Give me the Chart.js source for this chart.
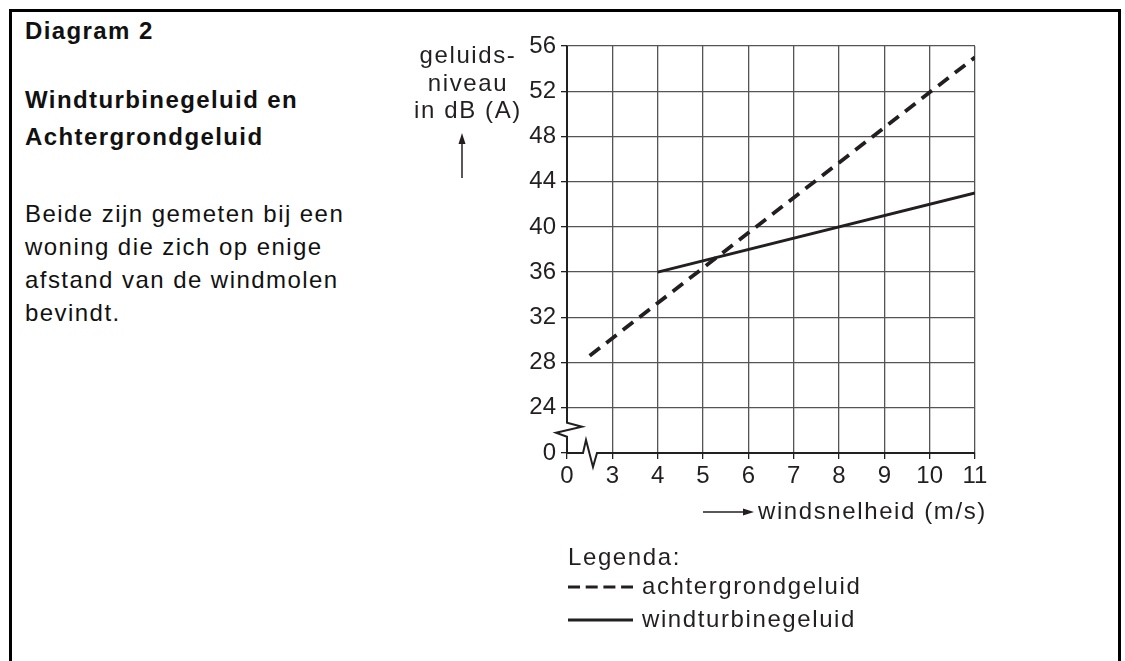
<!DOCTYPE html>
<html>
<head>
<meta charset="utf-8">
<script src="https://cdn.jsdelivr.net/npm/chart.js@4.4.1/dist/chart.umd.min.js"></script>
<style>
  html, body { margin: 0; padding: 0; background: #fff; overflow: hidden; }
  body { width: 1125px; height: 661px; position: relative; font-family: "Liberation Sans", Arial, sans-serif; color: #231f20; }
  .frame { position: absolute; left: 9px; top: 9px; width: 1106px; height: 700px; border: 3px solid #000; border-bottom: none; }
  .txt { position: absolute; left: 25px; white-space: nowrap; font-size: 24px; letter-spacing: 1.45px; color: #111; }
  .bold { font-weight: bold; letter-spacing: 1.4px; }
  #c { position: absolute; left: 0; top: 0; z-index: 2; }
</style>
</head>
<body>
<div class="frame"></div>
<div class="txt bold" style="top:14px; line-height:33px;">Diagram 2</div>
<div class="txt bold" style="top:81px; line-height:37px;">Windturbinegeluid en<br>Achtergrondgeluid</div>
<div class="txt" style="top:197px; line-height:33px;">Beide zijn gemeten bij een<br>woning die zich op enige<br>afstand van de windmolen<br>bevindt.</div>
<canvas id="c" width="1125" height="661"></canvas>
<script>
// tick positions and the labels shown for them (first ones sit on the axis break)
const xTicks = [2, 3, 4, 5, 6, 7, 8, 9, 10, 11];
const xTickLabels = ['0', '3', '4', '5', '6', '7', '8', '9', '10', '11'];
const yTicks = [20, 24, 28, 32, 36, 40, 44, 48, 52, 56];
const yTickLabels = ['0', '24', '28', '32', '36', '40', '44', '48', '52', '56'];

// series
const achtergrondX = [2.5, 11];
const achtergrondY = [28.6, 55];
const turbineX = [4, 11];
const turbineY = [36, 43];

const yTitle = ['geluids-', 'niveau', 'in dB (A)'];
const xTitle = 'windsnelheid (m/s)';
const legendTitle = 'Legenda:';

const ink = '#231f20';
const gridColor = '#555';
const font = '"Liberation Sans", Arial, sans-serif';

function arrowHead(ctx, x, y, dir) {
    ctx.beginPath();
    if (dir === 'up') {
        ctx.moveTo(x, y); ctx.lineTo(x - 3.5, y + 11); ctx.lineTo(x + 3.5, y + 11);
    } else {
        ctx.moveTo(x, y); ctx.lineTo(x - 11, y - 3.5); ctx.lineTo(x - 11, y + 3.5);
    }
    ctx.closePath();
    ctx.fill();
}

const decor = {
    id: 'decor',
    afterDraw(chart) {
        const { ctx, chartArea: a, scales: { x, y } } = chart;
        const x0 = x.getPixelForValue(xTicks[0]);
        const y0 = y.getPixelForValue(yTicks[0]);
        const y24 = y.getPixelForValue(yTicks[1]);
        ctx.save();
        ctx.strokeStyle = ink;
        ctx.fillStyle = ink;
        ctx.lineWidth = 2;
        ctx.lineJoin = 'miter';

        // axes with their breaks
        ctx.beginPath();
        ctx.moveTo(x0, a.top);
        ctx.lineTo(x0, y24 + 15);
        ctx.lineTo(x0 + 15, y24 + 19);
        ctx.lineTo(x0 - 11, y24 + 25);
        ctx.lineTo(x0, y24 + 29);
        ctx.lineTo(x0, y0);
        ctx.lineTo(x0 + 16, y0);
        ctx.lineTo(x0 + 19, y0 - 13);
        ctx.lineTo(x0 + 26, y0 + 14);
        ctx.lineTo(x0 + 30, y0);
        ctx.lineTo(a.right, y0);
        ctx.stroke();

        ctx.font = '24px ' + font;
        ctx.letterSpacing = '1.6px';
        ctx.textBaseline = 'alphabetic';

        // y title + arrow
        ctx.textAlign = 'center';
        const ty = a.left - 99;
        yTitle.forEach((t, i) => ctx.fillText(t, ty, a.top + 17 + i * 27.5));
        ctx.lineWidth = 1.5;
        ctx.beginPath();
        ctx.moveTo(a.left - 105, a.top + 132);
        ctx.lineTo(a.left - 105, a.top + 95);
        ctx.stroke();
        arrowHead(ctx, a.left - 105, a.top + 87, 'up');

        // x title + arrow
        const ay = y0 + 59;
        ctx.beginPath();
        ctx.moveTo(a.left + 136, ay);
        ctx.lineTo(a.left + 180, ay);
        ctx.stroke();
        arrowHead(ctx, a.left + 187, ay, 'right');
        ctx.textAlign = 'left';
        ctx.fillText(xTitle, a.left + 191, ay + 7);

        // legend
        const ds = chart.data.datasets;
        const lx = a.left + 1;
        ctx.fillText(legendTitle, lx, y0 + 112);
        [0, 1].forEach(i => {
            const ly = y0 + 134 + i * 33;
            ctx.strokeStyle = ds[i].borderColor;
            ctx.lineWidth = 3;
            ctx.setLineDash(i === 0 ? [12, 5.7] : []);
            ctx.beginPath();
            ctx.moveTo(lx, ly);
            ctx.lineTo(lx + 65, ly);
            ctx.stroke();
            ctx.setLineDash([]);
            ctx.fillText(ds[i].label, lx + 74, ly + 7);
        });
        ctx.letterSpacing = '0px';
        ctx.restore();
    }
};

new Chart(document.getElementById('c'), {
    type: 'line',
    data: {
        datasets: [{
            label: 'achtergrondgeluid',
            data: achtergrondX.map((v, i) => ({ x: v, y: achtergrondY[i] })),
            borderColor: ink,
            borderWidth: 3.8,
            borderDash: [13, 8],
            pointRadius: 0,
            fill: false
        }, {
            label: 'windturbinegeluid',
            data: turbineX.map((v, i) => ({ x: v, y: turbineY[i] })),
            borderColor: ink,
            borderWidth: 3,
            pointRadius: 0,
            fill: false
        }]
    },
    options: {
        responsive: false,
        animation: false,
        layout: { padding: { left: 517, right: 150, top: 46, bottom: 168 } },
        plugins: { legend: { display: false }, tooltip: { enabled: false } },
        scales: {
            x: {
                type: 'linear',
                min: xTicks[0],
                max: xTicks[xTicks.length - 1],
                afterBuildTicks: s => { s.ticks = xTicks.map(v => ({ value: v })); },
                afterFit: s => { s.height = 40; },
                border: { display: false },
                grid: {
                    color: c => (c.tick && c.tick.value === xTicks[0]) ? 'rgba(0,0,0,0)' : gridColor,
                    tickColor: ink,
                    lineWidth: 1.3,
                    tickLength: 6
                },
                ticks: {
                    autoSkip: false,
                    maxRotation: 0,
                    padding: 3,
                    color: ink,
                    font: { family: font, size: 24 },
                    callback: v => xTickLabels[xTicks.indexOf(v)]
                }
            },
            y: {
                type: 'linear',
                min: yTicks[0],
                max: yTicks[yTicks.length - 1],
                afterBuildTicks: s => { s.ticks = yTicks.map(v => ({ value: v })); },
                afterFit: s => { s.width = 50; },
                border: { display: false },
                grid: {
                    color: c => (c.tick && c.tick.value === yTicks[0]) ? 'rgba(0,0,0,0)' : gridColor,
                    tickColor: ink,
                    lineWidth: 1.3,
                    tickLength: 6
                },
                ticks: {
                    autoSkip: false,
                    padding: 5,
                    color: ink,
                    font: { family: font, size: 24 },
                    callback: v => yTickLabels[yTicks.indexOf(v)]
                }
            }
        }
    },
    plugins: [decor]
});
</script>
</body>
</html>
